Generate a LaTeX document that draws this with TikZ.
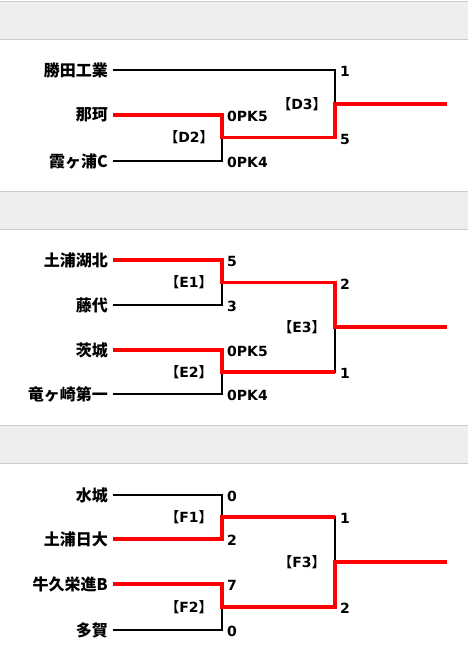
\documentclass[tikz,border=0pt]{standalone}
\usepackage{fontspec}
\setmainfont{DejaVu Sans}
\newfontfamily\jpfont{Noto Sans CJK JP}
\definecolor{band}{HTML}{EEEEEE}
\definecolor{bandline}{HTML}{CCCCCC}
\newcommand{\gamelabel}[1]{{\jpfont【}#1{\jpfont】}}

\begin{document}
\begin{tikzpicture}[x=1pt,y=-1pt,
  lose/.style={black, line width=1.6pt},
  win/.style={red, line width=3.2pt},
  team/.style={anchor=east, inner xsep=5pt, inner ysep=0pt, font=\jpfont\bfseries\fontsize{16}{16}\selectfont},
  score/.style={anchor=west, inner xsep=1pt, inner ysep=0pt, yshift=-1.5pt, font=\bfseries\fontsize{14}{14}\selectfont},
  game/.style={inner sep=0pt, font=\bfseries\fontsize{14}{14}\selectfont}]
\useasboundingbox (0,0) rectangle (467,658);
% header bands
\foreach \t in {1,191,425}
  \draw[bandline, fill=band] (-2,\t) rectangle (469,\t+38);

% block D
\node[team] (katsuta) at (113,70) {勝田工業};
\node[team] (naka) at (113,115) {那珂};
\node[team] (kasumi) at (113,161) {霞ヶ浦C};
\coordinate (d2) at (222,137.5);
\coordinate (d3) at (335,104);
\coordinate (dend) at (447,104);
\draw[lose] (katsuta.east) -| (d3);
\draw[lose] (kasumi.east) -| (d2);
\draw[win] (naka.east) -| (d2) -| (d3) -- (dend);
\node[score] (sd1) at (226,115) {0PK5};
\node[score] (sd2) at (226,161) {0PK4};
\node[score] (sd3) at (339,70) {1};
\node[score] (sd4) at (339,137.5) {5};
\node[game] (gd2) at (189,137) {\gamelabel{D2}};
\node[game] (gd3) at (302,104) {\gamelabel{D3}};

% block E
\node[team] (kohoku) at (113,260) {土浦湖北};
\node[team] (fujishiro) at (113,305) {藤代};
\node[team] (ibaraki) at (113,350) {茨城};
\node[team] (ryugasaki) at (113,394) {竜ヶ崎第一};
\coordinate (e1) at (222,282.5);
\coordinate (e2) at (222,372);
\coordinate (e3) at (335,327);
\coordinate (eend) at (447,327);
\draw[lose] (fujishiro.east) -| (e1);
\draw[lose] (ryugasaki.east) -| (e2);
\draw[lose] (e2) -| (e3);
\draw[win] (kohoku.east) -| (e1) -| (e3) -- (eend);
\draw[win] (ibaraki.east) -| (e2) -- (e2 -| e3);
\node[score] (se1) at (226,260) {5};
\node[score] (se2) at (226,305) {3};
\node[score] (se3) at (226,350) {0PK5};
\node[score] (se4) at (226,394) {0PK4};
\node[score] (se5) at (339,282.5) {2};
\node[score] (se6) at (339,372) {1};
\node[game] (ge1) at (189,282) {\gamelabel{E1}};
\node[game] (ge2) at (189,372) {\gamelabel{E2}};
\node[game] (ge3) at (302,327) {\gamelabel{E3}};

% block F
\node[team] (mito) at (113,495) {水城};
\node[team] (nichidai) at (113,539) {土浦日大};
\node[team] (ushiku) at (113,584) {牛久栄進B};
\node[team] (taga) at (113,630) {多賀};
\coordinate (f1) at (222,517);
\coordinate (f2) at (222,607);
\coordinate (f3) at (335,562);
\coordinate (fend) at (447,562);
\draw[lose] (mito.east) -| (f1);
\draw[lose] (taga.east) -| (f2);
\draw[lose] (f1) -| (f3);
\draw[win] (nichidai.east) -| (f1) -- (f1 -| f3);
\draw[win] (ushiku.east) -| (f2) -| (f3) -- (fend);
\node[score] (sf1) at (226,495) {0};
\node[score] (sf2) at (226,539) {2};
\node[score] (sf3) at (226,584) {7};
\node[score] (sf4) at (226,630) {0};
\node[score] (sf5) at (339,517) {1};
\node[score] (sf6) at (339,607) {2};
\node[game] (gf1) at (189,517) {\gamelabel{F1}};
\node[game] (gf2) at (189,607) {\gamelabel{F2}};
\node[game] (gf3) at (302,562) {\gamelabel{F3}};
\end{tikzpicture}
\end{document}
